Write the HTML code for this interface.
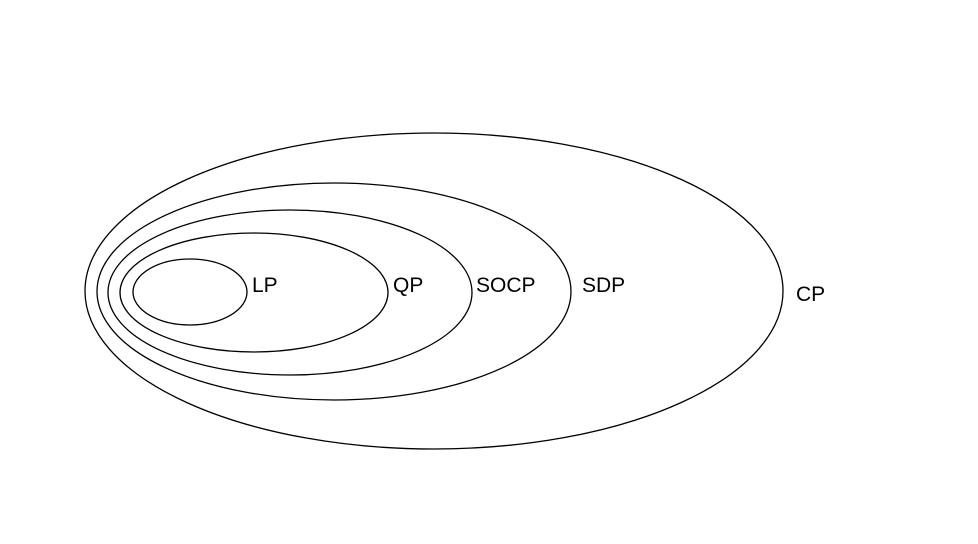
<!DOCTYPE html>
<html><head><meta charset="utf-8"><style>
html,body{margin:0;padding:0;background:#fff;}
svg{display:block;}
text{font-family:"Liberation Sans",sans-serif;font-size:21px;fill:#000;}
</style></head><body>
<svg width="978" height="544" viewBox="0 0 978 544" xmlns="http://www.w3.org/2000/svg">
<g fill="none" stroke="#000" stroke-width="1.3">
<ellipse cx="434" cy="291" rx="349" ry="158"/>
<ellipse cx="334" cy="291.5" rx="237" ry="108.5"/>
<ellipse cx="290" cy="292.5" rx="182" ry="82.5"/>
<ellipse cx="254" cy="292.5" rx="134" ry="59.5"/>
<ellipse cx="190" cy="292" rx="57" ry="33"/>
</g>
<text x="252" y="292">LP</text>
<text x="393" y="292">QP</text>
<text x="476" y="292">SOCP</text>
<text x="582" y="292">SDP</text>
<text x="796" y="301">CP</text>
</svg>
</body></html>
